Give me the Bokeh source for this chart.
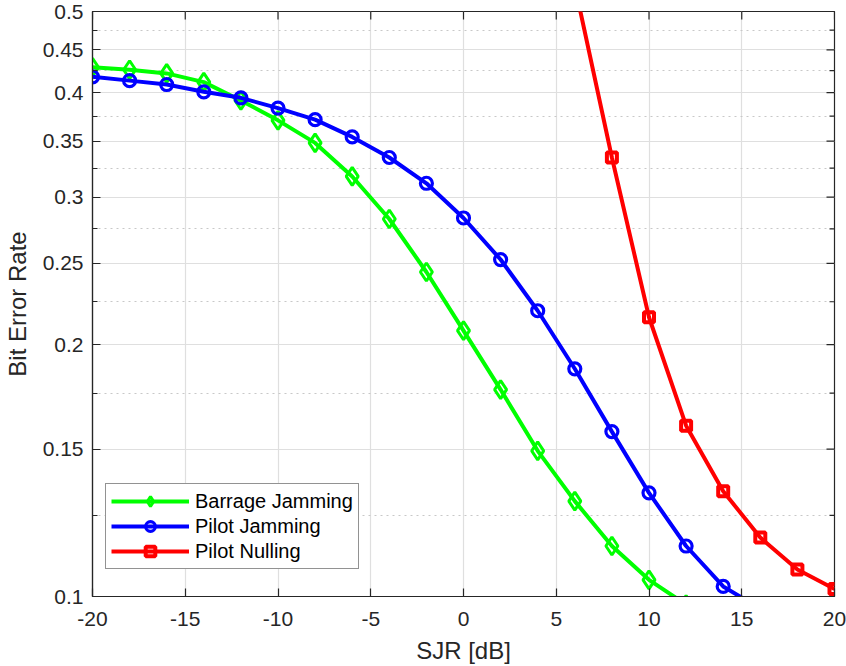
import math
from bokeh.plotting import figure
from bokeh.models import Range1d, FixedTicker, Legend, LegendItem
from bokeh.embed import file_html
from bokeh.resources import INLINE

# ---- data ----
sjr_barrage = [-20, -18, -16, -14, -12, -10, -8, -6, -4, -2, 0, 2, 4, 6, 8, 10, 12]
ber_barrage = [0.4288, 0.426, 0.4217, 0.4117, 0.3914, 0.3706, 0.3483, 0.3176, 0.2825,
               0.2442, 0.2078, 0.1767, 0.1493, 0.1300, 0.1149, 0.1047, 0.0978]

sjr_pilot_jam = [-20, -18, -16, -14, -12, -10, -8, -6, -4, -2, 0, 2, 4, 6, 8, 10, 12, 14, 16]
ber_pilot_jam = [0.4178, 0.4134, 0.409, 0.4009, 0.3943, 0.3833, 0.3713, 0.3541, 0.3346,
                 0.3117, 0.2833, 0.2527, 0.2195, 0.1871, 0.1574, 0.1330, 0.1149, 0.1028, 0.0967]

sjr_pilot_null = [6, 8, 10, 12, 14, 16, 18, 20]
ber_pilot_null = [0.537, 0.3346, 0.2156, 0.16, 0.1336, 0.1176, 0.1077, 0.1021]

x_ticks = [-20, -15, -10, -5, 0, 5, 10, 15, 20]
x_labels = ["-20", "-15", "-10", "-5", "0", "5", "10", "15", "20"]
y_ticks = [0.1, 0.15, 0.2, 0.25, 0.3, 0.35, 0.4, 0.45, 0.5]
y_minor = [0.125, 0.175, 0.225, 0.275, 0.325, 0.375, 0.425, 0.475]
y_labels = ["0.1", "0.15", "0.2", "0.25", "0.3", "0.35", "0.4", "0.45", "0.5"]

X_MIN, X_MAX = -20, 20
Y_MIN, Y_MAX = 0.1, 0.5

# ---- style ----
FONT = "Liberation Sans"
AX = "#262626"
TICK_FS = "21px"
LABEL_FS = "24px"

p = figure(width=846, height=666, output_backend="svg", toolbar_location=None,
           x_range=Range1d(X_MIN, X_MAX), y_range=Range1d(Y_MIN, Y_MAX), y_axis_type="log",
           min_border_left=90, min_border_right=12, min_border_top=11, min_border_bottom=70)
p.background_fill_color = "white"
p.border_fill_color = "white"
p.outline_line_color = AX
p.outline_line_width = 1.2

xt = FixedTicker(ticks=x_ticks, minor_ticks=[])
yt = FixedTicker(ticks=y_ticks, minor_ticks=y_minor)

def style_axis(ax):
    ax.axis_line_color = AX
    ax.axis_line_width = 1.2
    ax.major_tick_line_color = AX
    ax.minor_tick_line_color = AX
    ax.major_tick_line_width = 1.2
    ax.minor_tick_line_width = 1.2
    ax.major_tick_in = 8
    ax.major_tick_out = 0
    ax.minor_tick_in = 5
    ax.minor_tick_out = 0
    ax.major_label_text_font = FONT
    ax.major_label_text_font_size = TICK_FS
    ax.major_label_text_color = AX
    ax.axis_label_text_font = FONT
    ax.axis_label_text_font_size = LABEL_FS
    ax.axis_label_text_font_style = "normal"
    ax.axis_label_text_color = AX

for ax in p.xaxis:
    style_axis(ax)
    ax.ticker = xt
    ax.major_label_overrides = {v: s for v, s in zip(x_ticks, x_labels)}
    ax.axis_label = "SJR [dB]"
    ax.major_label_standoff = 15
    ax.axis_label_standoff = 8
for ax in p.yaxis:
    style_axis(ax)
    ax.ticker = yt
    ax.major_label_overrides = {v: s for v, s in zip(y_ticks, y_labels)}
    ax.axis_label = "Bit Error Rate"
    ax.major_label_standoff = 9
    ax.axis_label_standoff = 9

p.xgrid.grid_line_color = "#dfdfdf"
p.xgrid.grid_line_width = 1.2
p.ygrid.grid_line_color = "#dfdfdf"
p.ygrid.grid_line_width = 1.2
p.ygrid.minor_grid_line_color = "#c8c8c8"
p.ygrid.minor_grid_line_width = 1.2
p.ygrid.minor_grid_line_dash = "2 4"

# inward ticks on the top and right edges of the box (half of each dash is clipped by the frame)
p.scatter(x_ticks, [Y_MAX] * len(x_ticks), marker="dash", angle=math.pi / 2, size=16,
          line_color=AX, line_width=1.2)
p.scatter([X_MAX] * len(y_ticks), y_ticks, marker="dash", size=16,
          line_color=AX, line_width=1.2)
p.scatter([X_MAX] * len(y_minor), y_minor, marker="dash", size=10,
          line_color=AX, line_width=1.2)

LW = 4
l1 = p.line(sjr_barrage, ber_barrage, line_color="#00ff00", line_width=LW)
m1 = p.scatter(sjr_barrage, ber_barrage, marker="diamond", size=18, line_color="#00ff00",
               line_width=3, fill_alpha=0)
l2 = p.line(sjr_pilot_jam, ber_pilot_jam, line_color="#0000ff", line_width=LW)
m2 = p.scatter(sjr_pilot_jam, ber_pilot_jam, marker="circle", size=12, line_color="#0000ff",
               line_width=3.2, fill_alpha=0)
l3 = p.line(sjr_pilot_null, ber_pilot_null, line_color="#ff0000", line_width=LW)
m3 = p.scatter(sjr_pilot_null, ber_pilot_null, marker="square", size=10, line_color="#ff0000",
               line_width=4, fill_alpha=0)

legend = Legend(items=[
    LegendItem(label="Barrage Jamming", renderers=[l1, m1]),
    LegendItem(label="Pilot Jamming", renderers=[l2, m2]),
    LegendItem(label="Pilot Nulling", renderers=[l3, m3]),
], location=(13, 27))
legend.label_text_font = FONT
legend.label_text_font_size = "20px"
legend.label_text_color = "#000000"
legend.glyph_width = 78
legend.glyph_height = 24
legend.label_height = 24
legend.label_standoff = 6
legend.spacing = 1
legend.padding = 5
legend.margin = 0
legend.border_line_color = AX
legend.border_line_width = 1.2
legend.background_fill_color = "white"
legend.background_fill_alpha = 1
p.add_layout(legend, "center")

open("out.html", "w").write(file_html(p, INLINE))
